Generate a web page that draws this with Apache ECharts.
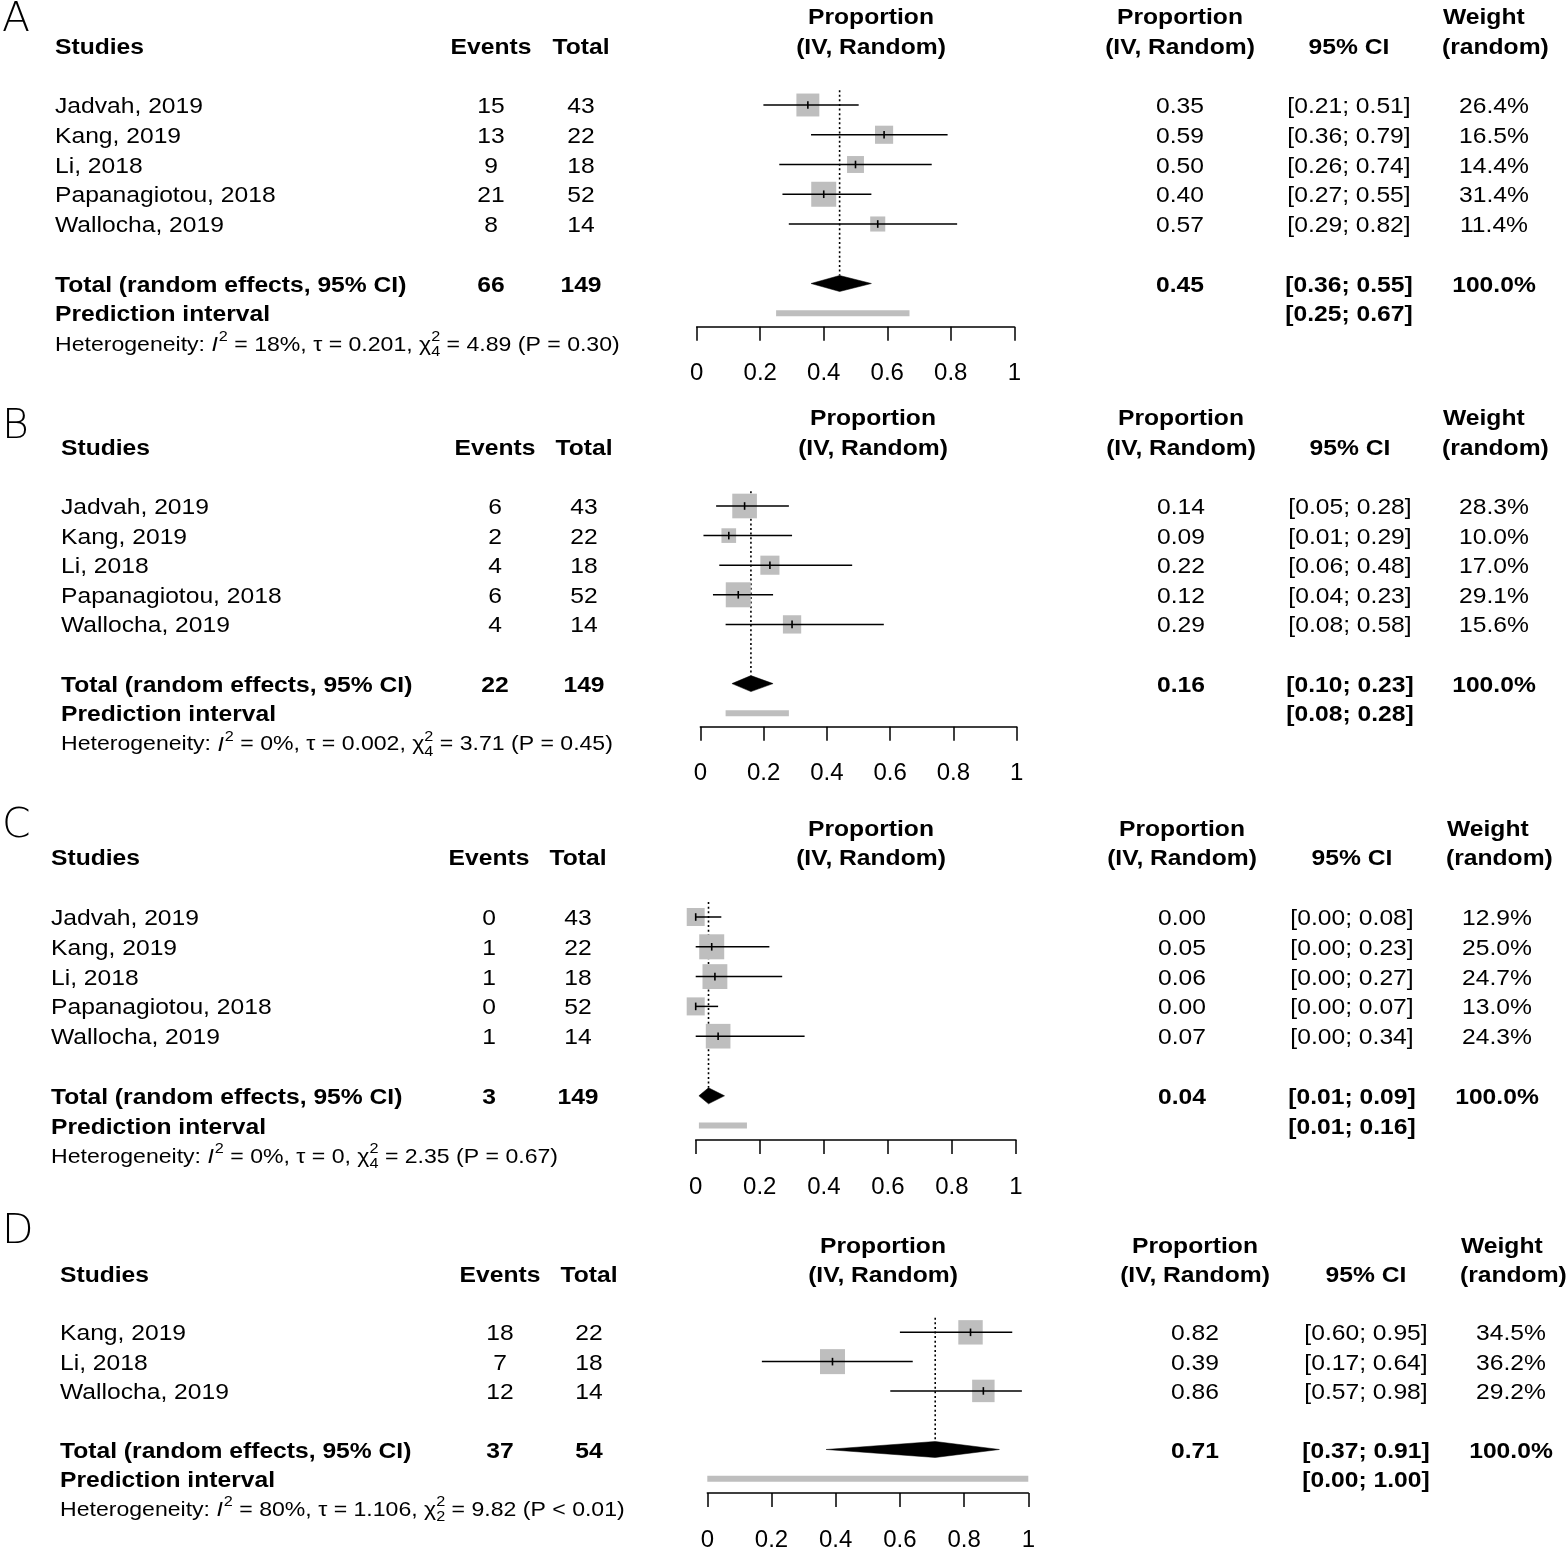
<!DOCTYPE html>
<html><head><meta charset="utf-8">
<script src="https://cdn.jsdelivr.net/npm/echarts@6/dist/echarts.min.js"></script>
<style>html,body{margin:0;padding:0;background:#fff}#c{width:1568px;height:1552px}</style>
</head><body><div id="c"></div>
<script>
// ================= DATA =================
const tickLabels = ['0','0.2','0.4','0.6','0.8','1'];

// Panel A
const studiesA = ['Jadvah, 2019','Kang, 2019','Li, 2018','Papanagiotou, 2018','Wallocha, 2019'];
const eventsA  = [15, 13, 9, 21, 8];
const totalsA  = [43, 22, 18, 52, 14];
const propA    = [0.35, 0.59, 0.50, 0.40, 0.57];
const lowerA   = [0.21, 0.36, 0.26, 0.27, 0.29];
const upperA   = [0.51, 0.79, 0.74, 0.55, 0.82];
const weightA  = [26.4, 16.5, 14.4, 31.4, 11.4];
const sumA     = [66, 149];
const pooledA  = [0.45, 0.36, 0.55];
const predA    = [0.25, 0.67];
const hetA     = ['18%', '0.201', '4', '4.89', 'P = 0.30'];

// Panel B
const studiesB = ['Jadvah, 2019','Kang, 2019','Li, 2018','Papanagiotou, 2018','Wallocha, 2019'];
const eventsB  = [6, 2, 4, 6, 4];
const totalsB  = [43, 22, 18, 52, 14];
const propB    = [0.14, 0.09, 0.22, 0.12, 0.29];
const lowerB   = [0.05, 0.01, 0.06, 0.04, 0.08];
const upperB   = [0.28, 0.29, 0.48, 0.23, 0.58];
const weightB  = [28.3, 10.0, 17.0, 29.1, 15.6];
const sumB     = [22, 149];
const pooledB  = [0.16, 0.10, 0.23];
const predB    = [0.08, 0.28];
const hetB     = ['0%', '0.002', '4', '3.71', 'P = 0.45'];

// Panel C
const studiesC = ['Jadvah, 2019','Kang, 2019','Li, 2018','Papanagiotou, 2018','Wallocha, 2019'];
const eventsC  = [0, 1, 1, 0, 1];
const totalsC  = [43, 22, 18, 52, 14];
const propC    = [0.00, 0.05, 0.06, 0.00, 0.07];
const lowerC   = [0.00, 0.00, 0.00, 0.00, 0.00];
const upperC   = [0.08, 0.23, 0.27, 0.07, 0.34];
const weightC  = [12.9, 25.0, 24.7, 13.0, 24.3];
const sumC     = [3, 149];
const pooledC  = [0.04, 0.01, 0.09];
const predC    = [0.01, 0.16];
const hetC     = ['0%', '0', '4', '2.35', 'P = 0.67'];

// Panel D
const studiesD = ['Kang, 2019','Li, 2018','Wallocha, 2019'];
const eventsD  = [18, 7, 12];
const totalsD  = [22, 18, 14];
const propD    = [0.82, 0.39, 0.86];
const lowerD   = [0.60, 0.17, 0.57];
const upperD   = [0.95, 0.64, 0.98];
const weightD  = [34.5, 36.2, 29.2];
const sumD     = [37, 54];
const pooledD  = [0.71, 0.37, 0.91];
const predD    = [0.00, 1.00];
const hetD     = ['80%', '1.106', '2', '9.82', 'P < 0.01'];

// ================= LAYOUT (pixels) =================
const layouts = [
  {letter:'A', letterY:20,   x0:696.7, x1:1014.3, y0:105,  pitch:29.75, axisY:326.7,  sx:55, ex:491, tx:581, hx:871, px:1180, cx:1349, whx:1442, wx:1494},
  {letter:'B', letterY:427,  x0:700.3, x1:1016.7, y0:506,  pitch:29.6,  axisY:726.7,  sx:61, ex:495, tx:584, hx:873, px:1181, cx:1350, whx:1442, wx:1494},
  {letter:'C', letterY:826,  x0:695.7, x1:1016.0, y0:917,  pitch:29.8,  axisY:1140,   sx:51, ex:489, tx:578, hx:871, px:1182, cx:1352, whx:1446, wx:1497},
  {letter:'D', letterY:1232, x0:707.3, x1:1028.3, y0:1333, pitch:29.95, axisY:1497.3, sx:60, ex:500, tx:589, hx:883, px:1195, cx:1366, whx:1460, wx:1511}
];

const panels = [
  {studies:studiesA, events:eventsA, totals:totalsA, prop:propA, lower:lowerA, upper:upperA, weight:weightA, sum:sumA, pooled:pooledA, pred:predA, het:hetA},
  {studies:studiesB, events:eventsB, totals:totalsB, prop:propB, lower:lowerB, upper:upperB, weight:weightB, sum:sumB, pooled:pooledB, pred:predB, het:hetB},
  {studies:studiesC, events:eventsC, totals:totalsC, prop:propC, lower:lowerC, upper:upperC, weight:weightC, sum:sumC, pooled:pooledC, pred:predC, het:hetC},
  {studies:studiesD, events:eventsD, totals:totalsD, prop:propD, lower:lowerD, upper:upperD, weight:weightD, sum:sumD, pooled:pooledD, pred:predD, het:hetD}
];

const SX = 1.12;
const TEXT_DY = 2;
const FONT = '"Liberation Sans", Arial, Helvetica, sans-serif';
const SQ_MAX = 25, DIAM_H = 8;

const chart = echarts.init(document.getElementById('c'), null, {renderer:'canvas'});

const grids = [], xAxes = [], yAxes = [], series = [];

panels.forEach(function(p, i){
  const L = layouts[i];
  const n = p.studies.length;
  const top = L.y0 - L.pitch;
  const axisRow = (L.axisY - L.y0) / L.pitch;
  grids.push({left:L.x0, top:top, width:L.x1 - L.x0, height:L.axisY - top, containLabel:false});
  xAxes.push({
    gridIndex:i, type:'value', min:0, max:1, interval:0.2,
    axisLine:{show:true, onZero:false, lineStyle:{color:'#000', width:1.5}},
    axisTick:{show:true, inside:false, length:14, lineStyle:{color:'#000', width:1.5}},
    axisLabel:{show:true, margin:35, color:'#000', fontSize:24, fontFamily:FONT,
      formatter:function(v){ return tickLabels[Math.round(v/0.2)]; }},
    splitLine:{show:false}
  });
  yAxes.push({gridIndex:i, type:'value', min:-1, max:axisRow, inverse:true, show:false,
    splitLine:{show:false}});

  const totalRow = n + 1, predRow = n + 2;
  const wmax = Math.max.apply(null, p.weight);

  // dotted reference line at pooled estimate
  series.push({
    type:'line', xAxisIndex:i, yAxisIndex:i, symbol:'none', silent:true, z:1,
    lineStyle:{color:'#000', width:1.6, type:[2,2.6]},
    data:[[p.pooled[0], -0.5], [p.pooled[0], totalRow - DIAM_H / L.pitch]]
  });

  // studies: squares + CI lines
  series.push({
    type:'custom', xAxisIndex:i, yAxisIndex:i, silent:true, z:2, clip:false,
    data:p.studies.map(function(s, k){ return [p.prop[k], k, p.lower[k], p.upper[k], p.weight[k]]; }),
    renderItem:function(params, api){
      const est = api.value(0), row = api.value(1), lo = api.value(2), hi = api.value(3), w = api.value(4);
      const c = api.coord([est, row]), l = api.coord([lo, row]), h = api.coord([hi, row]);
      const s = SQ_MAX * Math.sqrt(w / wmax);
      return {type:'group', children:[
        {type:'rect', shape:{x:c[0]-s/2, y:c[1]-s/2, width:s, height:s}, style:{fill:'#bebebe'}},
        {type:'line', shape:{x1:l[0], y1:c[1], x2:h[0], y2:c[1]}, style:{stroke:'#000', lineWidth:1.5}},
        {type:'line', shape:{x1:c[0], y1:c[1]-3.8, x2:c[0], y2:c[1]+3.8}, style:{stroke:'#000', lineWidth:1.6}}
      ]};
    }
  });

  // pooled diamond
  series.push({
    type:'custom', xAxisIndex:i, yAxisIndex:i, silent:true, z:3, clip:false,
    data:[[p.pooled[0], totalRow, p.pooled[1], p.pooled[2]]],
    renderItem:function(params, api){
      const c = api.coord([api.value(0), api.value(1)]);
      const l = api.coord([api.value(2), api.value(1)]);
      const h = api.coord([api.value(3), api.value(1)]);
      return {type:'polygon', shape:{points:[[l[0], c[1]], [c[0], c[1]-DIAM_H], [h[0], c[1]], [c[0], c[1]+DIAM_H]]},
        style:{fill:'#000', stroke:'#000', lineWidth:0.5}};
    }
  });

  // prediction interval bar
  series.push({
    type:'line', xAxisIndex:i, yAxisIndex:i, symbol:'none', silent:true, z:2,
    lineStyle:{color:'#bebebe', width:6, cap:'butt'},
    data:[[p.pred[0], predRow], [p.pred[1], predRow]]
  });
});

chart.setOption({animation:false, backgroundColor:'#fff', grid:grids, xAxis:xAxes, yAxis:yAxes, series:series});

// ================= TEXT =================
const gfx = [];
function addText(x, y, s, o){
  o = o || {};
  gfx.push({type:'text', x:x, y:y + TEXT_DY, scaleX:(o.sx === undefined ? SX : o.sx), silent:true, z:10,
    style:{text:s, fill:'#000', fontFamily:o.family || FONT, fontSize:o.size || 22,
      fontWeight:o.weight || (o.bold ? 'bold' : 'normal'), fontStyle:o.italic ? 'italic' : 'normal',
      align:o.align || 'left', verticalAlign:'middle'}});
}
const mctx = document.createElement('canvas').getContext('2d');
function tw(s, size, style){ mctx.font = (style || '') + ' ' + size + 'px ' + FONT; return mctx.measureText(s).width * SX; }
function ci(lo, hi){ return '[' + lo.toFixed(2) + '; ' + hi.toFixed(2) + ']'; }

panels.forEach(function(p, i){
  const L = layouts[i];
  const n = p.studies.length;
  const rowY = function(r){ return chart.convertToPixel({yAxisIndex:i}, r); };

  addText(2, L.letterY - TEXT_DY, L.letter, {size:41, family:'"DejaVu Sans", sans-serif', sx:1, weight:200});

  // headers
  const h1 = rowY(-3), h2 = rowY(-2);
  addText(L.sx, h2, 'Studies', {bold:true});
  addText(L.ex, h2, 'Events', {bold:true, align:'center'});
  addText(L.tx, h2, 'Total', {bold:true, align:'center'});
  addText(L.hx, h1, 'Proportion', {bold:true, align:'center'});
  addText(L.hx, h2, '(IV, Random)', {bold:true, align:'center'});
  addText(L.px, h1, 'Proportion', {bold:true, align:'center'});
  addText(L.px, h2, '(IV, Random)', {bold:true, align:'center'});
  addText(L.cx, h2, '95% CI', {bold:true, align:'center'});
  addText(L.whx + 1, h1, 'Weight', {bold:true});
  addText(L.whx, h2, '(random)', {bold:true});

  // study rows
  p.studies.forEach(function(s, k){
    const y = rowY(k);
    addText(L.sx, y, s);
    addText(L.ex, y, String(p.events[k]), {align:'center'});
    addText(L.tx, y, String(p.totals[k]), {align:'center'});
    addText(L.px, y, p.prop[k].toFixed(2), {align:'center'});
    addText(L.cx, y, ci(p.lower[k], p.upper[k]), {align:'center'});
    addText(L.wx, y, p.weight[k].toFixed(1) + '%', {align:'center'});
  });

  // total row
  const yt = rowY(n + 1);
  addText(L.sx, yt, 'Total (random effects, 95% CI)', {bold:true});
  addText(L.ex, yt, String(p.sum[0]), {bold:true, align:'center'});
  addText(L.tx, yt, String(p.sum[1]), {bold:true, align:'center'});
  addText(L.px, yt, p.pooled[0].toFixed(2), {bold:true, align:'center'});
  addText(L.cx, yt, ci(p.pooled[1], p.pooled[2]), {bold:true, align:'center'});
  addText(L.wx, yt, '100.0%', {bold:true, align:'center'});

  // prediction row
  const yp = rowY(n + 2);
  addText(L.sx, yp, 'Prediction interval', {bold:true});
  addText(L.cx, yp, ci(p.pred[0], p.pred[1]), {bold:true, align:'center'});

  // heterogeneity row
  const yh = rowY(n + 3);
  const FS = 20.6, SS = 14.5;
  let x = L.sx;
  let s1 = 'Heterogeneity: ';
  addText(x, yh, s1, {size:FS}); x += tw(s1, FS);
  addText(x, yh, 'I', {size:FS, italic:true}); x += tw('I', FS, 'italic') + 1;
  addText(x, yh - 8, '2', {size:SS}); x += tw('2', SS);
  let s2 = ' = ' + p.het[0] + ', \u03C4 = ' + p.het[1] + ', \u03C7';
  addText(x, yh, s2, {size:FS}); x += tw(s2, FS);
  addText(x, yh - 8, '2', {size:SS});
  addText(x, yh + 7, p.het[2], {size:SS});
  x += tw(p.het[2], SS);
  let s3 = ' = ' + p.het[3] + ' (' + p.het[4] + ')';
  addText(x, yh, s3, {size:FS});
});

chart.setOption({graphic:{elements:gfx}});
</script>
</body></html>
